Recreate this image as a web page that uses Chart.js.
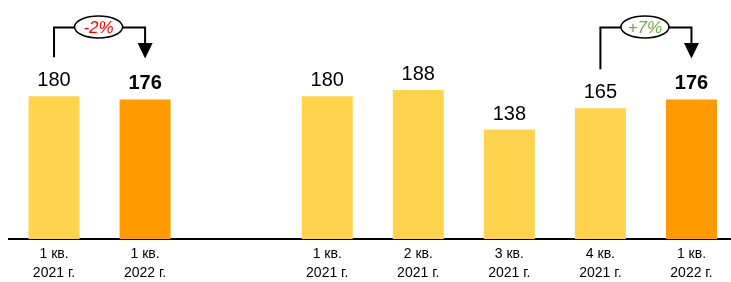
<!DOCTYPE html>
<html>
<head>
<meta charset="utf-8">
<script src="https://cdn.jsdelivr.net/npm/chart.js@4/dist/chart.umd.min.js"></script>
<style>
html,body{margin:0;padding:0;background:#fff;overflow:hidden;}
#wrap{position:absolute;left:0;top:0;width:737px;height:281px;}
</style>
</head>
<body>
<div id="wrap"><canvas id="c"></canvas></div>
<script>
// Categories (the empty one is the gap between the two groups)
const categories = [
  ['1 кв.', '2021 г.'],
  ['1 кв.', '2022 г.'],
  '',
  ['1 кв.', '2021 г.'],
  ['2 кв.', '2021 г.'],
  ['3 кв.', '2021 г.'],
  ['4 кв.', '2021 г.'],
  ['1 кв.', '2022 г.']
];
const values = [180, 176, null, 180, 188, 138, 165, 176];
const isCurrent = [false, true, false, false, false, false, false, true];
// comparisons drawn as bracket arrows: [fromIndex, toIndex]
const comparisons = [[0, 1], [6, 7]];

const COLOR_PAST = '#FFD34E';
const COLOR_CUR = '#FF9A00';
const barColors = isCurrent.map(c => c ? COLOR_CUR : COLOR_PAST);

const annotate = {
  id: 'annotate',
  afterDatasetsDraw(chart) {
    const ctx = chart.ctx;
    const meta = chart.getDatasetMeta(0);
    ctx.save();
    ctx.textAlign = 'center';
    ctx.textBaseline = 'alphabetic';
    ctx.fillStyle = '#000';
    meta.data.forEach((bar, i) => {
      if (values[i] == null) return;
      ctx.font = (isCurrent[i] ? 'bold ' : '') + '20px "Liberation Sans", Arial, sans-serif';
      ctx.fillText(String(values[i]), bar.x, bar.y - 10);
    });

    const yLine = 27.5;
    comparisons.forEach(([a, b]) => {
      const A = meta.data[a], B = meta.data[b];
      const pct = Math.round((values[b] - values[a]) / values[a] * 100);
      const txt = (pct > 0 ? '+' : '') + pct + '%';
      const col = pct < 0 ? '#FF0000' : '#70AD47';
      ctx.strokeStyle = '#000';
      ctx.lineWidth = 2;
      ctx.beginPath();
      ctx.moveTo(A.x, A.y - 39);
      ctx.lineTo(A.x, yLine);
      ctx.lineTo(B.x, yLine);
      ctx.lineTo(B.x, 44);
      ctx.stroke();
      ctx.fillStyle = '#000';
      ctx.beginPath();
      ctx.moveTo(B.x - 7.5, 43);
      ctx.lineTo(B.x + 7.5, 43);
      ctx.lineTo(B.x, 58.5);
      ctx.closePath();
      ctx.fill();
      const cx = (A.x + B.x) / 2 - 1;
      ctx.beginPath();
      ctx.ellipse(cx, 27, 24, 11, 0, 0, Math.PI * 2);
      ctx.fillStyle = '#fff';
      ctx.fill();
      ctx.lineWidth = 1.5;
      ctx.stroke();
      ctx.fillStyle = col;
      ctx.font = 'italic 17px "Liberation Sans", Arial, sans-serif';
      ctx.textBaseline = 'middle';
      ctx.fillText(txt, cx, 28);
      ctx.textBaseline = 'alphabetic';
    });
    ctx.restore();
  }
};

new Chart(document.getElementById('c'), {
  type: 'bar',
  data: {
    labels: categories,
    datasets: [{
      data: values,
      backgroundColor: barColors,
      borderWidth: 0,
      barPercentage: 0.56,
      categoryPercentage: 1.0
    }]
  },
  options: {
    responsive: true,
    maintainAspectRatio: false,
    animation: false,
    events: [],
    layout: { padding: { left: 8.5, right: 0, top: 0, bottom: 0 } },
    plugins: { legend: { display: false }, tooltip: { enabled: false } },
    scales: {
      x: {
        grid: { display: false },
        border: { display: true, color: '#000', width: 2 },
        ticks: {
          color: '#000',
          font: { family: '"Liberation Sans", Arial, sans-serif', size: 14, lineHeight: 1.36 },
          padding: -2,
          maxRotation: 0,
          autoSkip: false
        }
      },
      y: { display: false, min: 0, max: 301.6 }
    }
  },
  plugins: [annotate]
});
</script>
</body>
</html>
